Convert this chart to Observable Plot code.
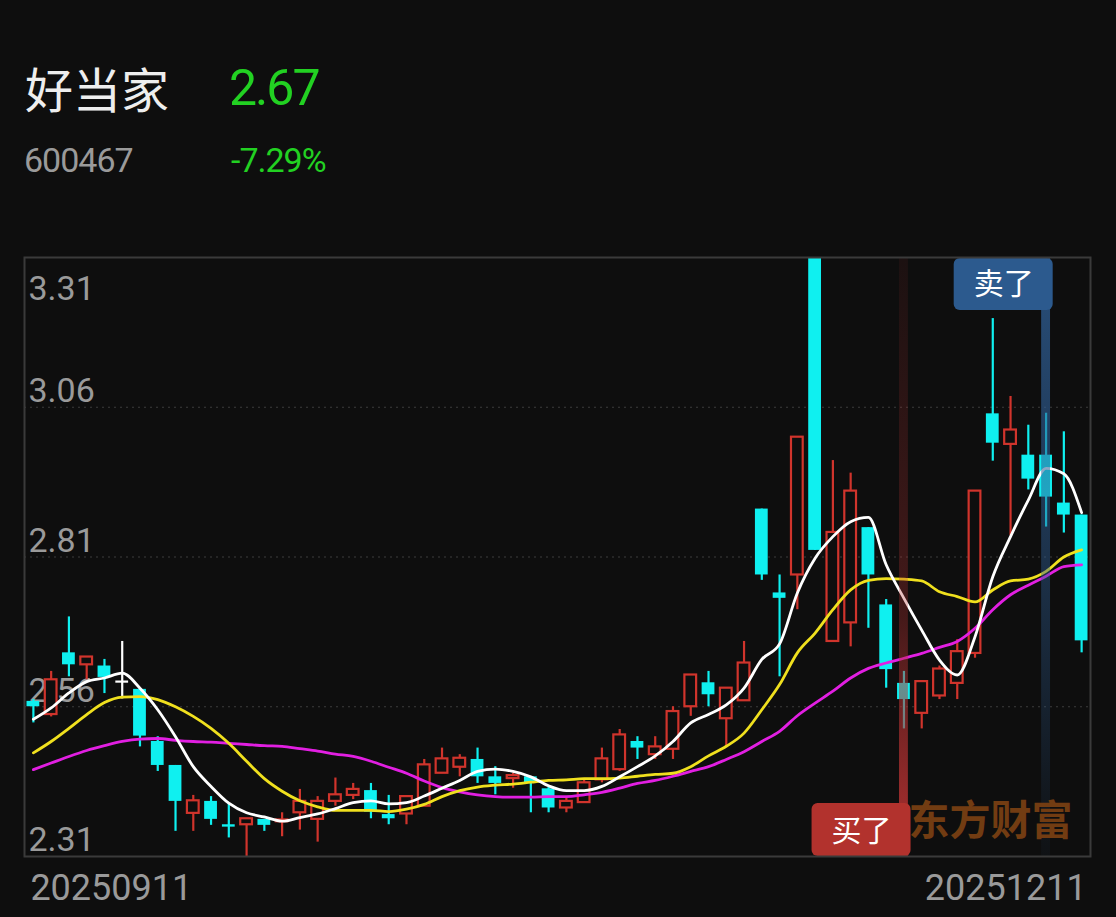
<!DOCTYPE html>
<html>
<head>
<meta charset="utf-8">
<script src="https://cdn.jsdelivr.net/npm/d3@7"></script>
<script src="https://cdn.jsdelivr.net/npm/@observablehq/plot@0.6"></script>
<style>
  html, body { margin: 0; padding: 0; background: #0e0e0e; }
  #wrap { width: 1116px; height: 917px; background: #0e0e0e; overflow: hidden; }
  #head { position: relative; height: 230px; }
  #head div { position: absolute; white-space: nowrap; }
  g[aria-label="dates"] text, g[aria-label="yticks"] text { letter-spacing: -1px; }
</style>
</head>
<body>
<div id="wrap">
  <div id="head">
    <div style="left:25px;top:63px;font:48px/48px 'Noto Sans CJK SC';color:#eeeeee;">好当家</div>
    <div style="left:229px;top:63px;font:50px/50px Roboto;color:#22d122;letter-spacing:-2px;">2.67</div>
    <div style="left:24px;top:143px;font:34px/34px Roboto;color:#9a9a9a;letter-spacing:-1px;">600467</div>
    <div style="left:231px;top:143px;font:34px/34px Roboto;color:#22d122;letter-spacing:-1px;">-7.29%</div>
  </div>
  <div id="chart"></div>
</div>
<script>
const dates = ["20250911","20250912","20250915","20250916","20250917","20250918","20250919","20250922","20250923","20250924",
  "20250925","20250926","20250929","20250930","20251009","20251010","20251013","20251014","20251015","20251016",
  "20251017","20251020","20251021","20251022","20251023","20251024","20251027","20251028","20251029","20251030",
  "20251031","20251103","20251104","20251105","20251106","20251107","20251110","20251111","20251112","20251113",
  "20251114","20251117","20251118","20251119","20251120","20251121","20251124","20251125","20251126","20251127",
  "20251128","20251201","20251202","20251203","20251204","20251205","20251208","20251209","20251210","20251211"];
const opens = [2.569,2.547,2.650,2.630,2.628,2.602,2.589,2.502,2.462,2.382,
  2.402,2.363,2.363,2.372,2.368,2.383,2.372,2.402,2.412,2.420,
  2.380,2.381,2.394,2.449,2.459,2.472,2.443,2.440,2.443,2.423,
  2.391,2.400,2.438,2.455,2.502,2.480,2.489,2.560,2.600,2.540,
  2.570,2.890,2.750,2.780,3.310,2.669,2.700,2.859,2.730,2.599,
  2.549,2.578,2.599,2.649,3.049,2.998,2.980,2.980,2.900,2.880];
const highs = [2.572,2.619,2.710,2.643,2.639,2.669,2.590,2.510,2.462,2.412,
  2.410,2.399,2.373,2.372,2.383,2.422,2.410,2.441,2.432,2.432,
  2.412,2.410,2.472,2.491,2.480,2.491,2.460,2.449,2.443,2.427,
  2.408,2.439,2.491,2.522,2.510,2.510,2.560,2.613,2.619,2.591,
  2.669,2.890,2.780,3.010,3.310,2.971,2.950,2.859,2.739,2.619,
  2.602,2.628,2.672,2.920,3.208,3.078,3.030,3.050,3.019,2.880];
const lows = [2.533,2.543,2.610,2.605,2.582,2.573,2.493,2.452,2.352,2.352,
  2.362,2.341,2.310,2.352,2.343,2.354,2.334,2.394,2.405,2.373,
  2.363,2.363,2.394,2.449,2.443,2.432,2.413,2.424,2.383,2.383,
  2.383,2.400,2.433,2.452,2.472,2.472,2.472,2.544,2.560,2.494,
  2.570,2.771,2.610,2.722,2.821,2.669,2.660,2.691,2.591,2.523,
  2.523,2.572,2.572,2.641,2.970,2.846,2.922,2.860,2.850,2.650];
const closes = [2.560,2.605,2.630,2.643,2.609,2.602,2.511,2.462,2.402,2.403,
  2.372,2.359,2.373,2.362,2.371,2.402,2.402,2.413,2.422,2.384,
  2.373,2.410,2.463,2.473,2.474,2.443,2.432,2.445,2.433,2.391,
  2.402,2.433,2.473,2.513,2.491,2.493,2.552,2.613,2.580,2.591,
  2.633,2.780,2.741,3.010,2.821,2.851,2.920,2.780,2.622,2.572,
  2.602,2.623,2.652,2.920,3.000,3.022,2.940,2.910,2.880,2.670];
const ma5 = [2.539,2.558,2.583,2.602,2.608,2.616,2.591,2.555,2.510,2.460,
  2.427,2.399,2.383,2.376,2.369,2.375,2.381,2.390,2.400,2.403,
  2.398,2.400,2.411,2.424,2.437,2.452,2.456,2.452,2.443,2.428,
  2.420,2.420,2.427,2.443,2.460,2.478,2.502,2.533,2.547,2.563,
  2.591,2.639,2.665,2.750,2.808,2.844,2.869,2.876,2.797,2.741,
  2.688,2.638,2.613,2.677,2.777,2.844,2.905,2.958,2.949,2.884];
const ma10 = [2.483,2.502,2.524,2.547,2.567,2.576,2.577,2.572,2.560,2.544,
  2.524,2.499,2.469,2.440,2.419,2.403,2.393,2.387,2.387,2.387,
  2.385,2.389,2.397,2.410,2.420,2.426,2.429,2.431,2.434,2.437,
  2.438,2.440,2.440,2.441,2.444,2.447,2.449,2.460,2.478,2.494,
  2.516,2.555,2.597,2.650,2.683,2.722,2.755,2.771,2.774,2.773,
  2.770,2.752,2.744,2.735,2.755,2.770,2.773,2.786,2.810,2.822];
const ma20 = [2.455,2.466,2.477,2.487,2.495,2.502,2.506,2.507,2.504,2.502,
  2.501,2.499,2.497,2.495,2.494,2.490,2.486,2.481,2.477,2.469,
  2.459,2.449,2.436,2.425,2.418,2.413,2.410,2.409,2.409,2.410,
  2.410,2.413,2.417,2.424,2.432,2.437,2.444,2.452,2.460,2.472,
  2.485,2.502,2.519,2.545,2.566,2.586,2.608,2.624,2.633,2.641,
  2.649,2.659,2.669,2.691,2.722,2.747,2.763,2.778,2.794,2.797];
const yTicks = [3.31, 3.06, 2.81, 2.56, 2.31];
const signals = [
  {date: "20251127", label: "买了", kind: "buy"},
  {date: "20251209", label: "卖了", kind: "sell"}
];
const watermark = "东方财富";

const BG = "#0e0e0e", RED = "#d0342c", CYAN = "#0ff0f0";
const rows = dates.map((d, i) => ({i, date: d, open: opens[i], high: highs[i], low: lows[i], close: closes[i],
  ma5: ma5[i], ma10: ma10[i], ma20: ma20[i]}));
const up = rows.filter(d => d.close > d.open);
const down = rows.filter(d => d.close < d.open);
const flat = rows.filter(d => d.close === d.open);
const sig = signals.map(s => ({...s, i: dates.indexOf(s.date)}));
const buy = sig.filter(s => s.kind === "buy");
const sell = sig.filter(s => s.kind === "sell");
const yDomain = [d3.min(yTicks), d3.max(yTicks)];
const lastI = dates.length - 1;

const defs = () => {
  const d = d3.create("svg:defs");
  const b = d.append("linearGradient").attr("id", "buyGrad").attr("x1", 0).attr("x2", 0).attr("y1", 0).attr("y2", 1);
  [[0, 0.08], [0.6, 0.32], [0.9, 0.8], [1, 0.9]].forEach(([o, a]) =>
    b.append("stop").attr("offset", o).attr("stop-color", "#b83232").attr("stop-opacity", a));
  const s = d.append("linearGradient").attr("id", "sellGrad").attr("x1", 0).attr("x2", 0).attr("y1", 0).attr("y2", 1);
  [[0, 0.8], [0.5, 0.45], [0.9, 0.12], [1, 0.05]].forEach(([o, a]) =>
    s.append("stop").attr("offset", o).attr("stop-color", "#2f5f96").attr("stop-opacity", a));
  return d.node();
};

const tagBoxes = (index, scales, values, dims) => {
  const g = d3.create("svg:g");
  for (const s of sig) {
    const right = scales.x(s.i + 0.4);
    const w = 99, h = s.kind === "sell" ? 52 : 53;
    const top = s.kind === "sell" ? dims.marginTop + 1 : dims.height - dims.marginBottom - h;
    g.append("rect").attr("x", right - w).attr("y", top).attr("width", w).attr("height", h)
      .attr("rx", 6).attr("fill", s.kind === "sell" ? "#2c5a8e" : "#b2322d");
  }
  return g.node();
};

const chart = Plot.plot({
  width: 1116,
  height: 687,
  marginTop: 27,
  marginBottom: 61,
  marginLeft: 24,
  marginRight: 26,
  style: {background: BG, overflow: "visible"},
  x: {type: "linear", domain: [-0.5, lastI + 0.5], axis: null},
  y: {domain: yDomain, axis: null},
  marks: [
    defs,
    Plot.ruleY(yTicks.slice(1, -1), {stroke: "#3c3c3c", strokeWidth: 1, strokeDasharray: "2,4"}),
    Plot.text(yTicks.slice(0, 1), {y: d => d, text: d => d3.format(".2f")(d), frameAnchor: "left", textAnchor: "start",
      dx: 4, dy: 32, lineAnchor: "middle", fill: "#9a9a9a", fontSize: 34, fontFamily: "Roboto", ariaLabel: "yticks"}),
    Plot.text(yTicks.slice(1), {y: d => d, text: d => d3.format(".2f")(d), frameAnchor: "left", textAnchor: "start",
      dx: 4, dy: -16, lineAnchor: "middle", fill: "#9a9a9a", fontSize: 34, fontFamily: "Roboto", ariaLabel: "yticks"}),
    // red (rising) candles: hollow
    Plot.ruleX(up, {x: "i", y1: "high", y2: d => Math.max(d.open, d.close), stroke: RED, strokeWidth: 2.2}),
    Plot.ruleX(up, {x: "i", y1: d => Math.min(d.open, d.close), y2: "low", stroke: RED, strokeWidth: 2.2}),
    Plot.rect(up, {x1: d => d.i - 0.33, x2: d => d.i + 0.33, y1: "open", y2: "close", fill: BG, stroke: RED, strokeWidth: 2.2}),
    // cyan (falling) candles: filled
    Plot.ruleX(down, {x: "i", y1: "low", y2: "high", stroke: CYAN, strokeWidth: 2.2}),
    Plot.rect(down, {x1: d => d.i - 0.36, x2: d => d.i + 0.36, y1: "open", y2: "close", fill: CYAN}),
    // doji
    Plot.ruleX(flat, {x: "i", y1: "low", y2: "high", stroke: "#ffffff", strokeWidth: 2.2}),
    Plot.ruleY(flat, {y: "open", x1: d => d.i - 0.36, x2: d => d.i + 0.36, stroke: "#ffffff", strokeWidth: 2.2}),
    // moving averages
    Plot.line(rows, {x: "i", y: "ma20", stroke: "#e21fe2", strokeWidth: 2.8, curve: "monotone-x"}),
    Plot.line(rows, {x: "i", y: "ma10", stroke: "#f0e01e", strokeWidth: 2.8, curve: "monotone-x"}),
    Plot.line(rows, {x: "i", y: "ma5", stroke: "#ffffff", strokeWidth: 2.8, curve: "monotone-x"}),
    // signal bands
    Plot.rect(buy, {x1: d => d.i - 0.25, x2: d => d.i + 0.25, y1: yDomain[0], y2: yDomain[1], fill: "url(#buyGrad)"}),
    Plot.rect(sell, {x1: d => d.i - 0.25, x2: d => d.i + 0.25, y1: yDomain[0], y2: yDomain[1], fill: "url(#sellGrad)"}),
    // watermark
    Plot.text([watermark], {x: lastI, text: d => d, frameAnchor: "bottom", textAnchor: "end", lineAnchor: "middle",
      dx: -9, dy: -35, fill: "#723c12", fontSize: 41, fontWeight: "bold", fontFamily: "Noto Sans CJK SC"}),
    tagBoxes,
    Plot.text(sell, {x: d => d.i + 0.4, text: "label", dx: -49.5, frameAnchor: "top", dy: 27, lineAnchor: "middle",
      textAnchor: "middle", fill: "#ffffff", fontSize: 30, fontFamily: "Noto Sans CJK SC"}),
    Plot.text(buy, {x: d => d.i + 0.4, text: "label", dx: -49.5, frameAnchor: "bottom", dy: -25, lineAnchor: "middle",
      textAnchor: "middle", fill: "#ffffff", fontSize: 30, fontFamily: "Noto Sans CJK SC"}),
    // date labels
    Plot.text([dates[0]], {x: 0, text: d => d, frameAnchor: "bottom", dy: 32, lineAnchor: "middle", textAnchor: "start",
      dx: -3, fill: "#9a9a9a", fontSize: 36, fontFamily: "Roboto", ariaLabel: "dates"}),
    Plot.text([dates[lastI]], {x: lastI, text: d => d, frameAnchor: "bottom", dy: 32, lineAnchor: "middle", textAnchor: "end",
      dx: 5, fill: "#9a9a9a", fontSize: 36, fontFamily: "Roboto", ariaLabel: "dates"}),
    Plot.frame({stroke: "#3a3a3a", strokeWidth: 2})
  ]
});
document.getElementById("chart").appendChild(chart);
</script>
</body>
</html>
